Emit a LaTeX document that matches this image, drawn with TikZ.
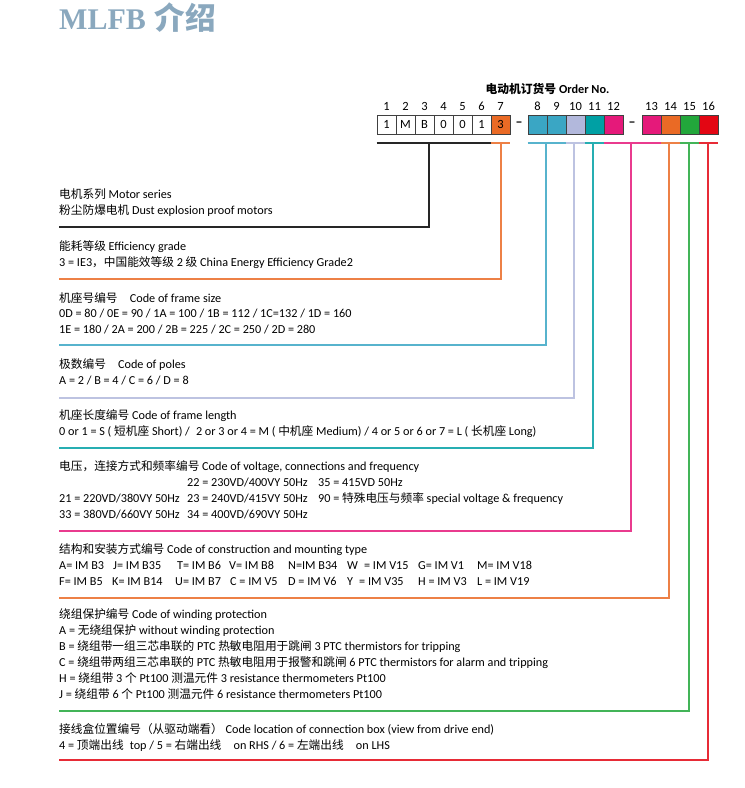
\documentclass[tikz,border=0pt]{standalone}
\usepackage{fontspec}
\setmainfont{Carlito}
\newfontfamily\cjk[Scale=0.958]{Noto Sans CJK SC}
\newfontfamily\ttlserif{Liberation Serif}
\definecolor{mlfbgrey}{RGB}{138,168,190}
\definecolor{ordblue}{RGB}{58,166,196}
\definecolor{ordlav}{RGB}{178,184,220}
\definecolor{ordteal}{RGB}{0,160,164}
\definecolor{ordpink}{RGB}{229,25,122}
\definecolor{ordorange}{RGB}{234,106,37}
\definecolor{ordgreen}{RGB}{34,167,59}
\definecolor{ordred}{RGB}{227,6,19}
\usepackage{tikz}
\usetikzlibrary{positioning}

\tikzset{
  digit/.style={draw=black!75, line width=0.8pt, minimum width=19pt, minimum height=19pt, inner sep=0pt, font=\fontsize{12.5}{13}\selectfont},
  posnum/.style={anchor=base, inner sep=0pt, font=\fontsize{12.5}{13}\selectfont},
  txt/.style={anchor=base west, inner sep=0pt, font=\fontsize{12.2}{16}\selectfont},
  lead/.style={line width=2pt, #1!85!white},
}

\begin{document}
\begin{tikzpicture}[x=1pt, y=-1pt]
  \useasboundingbox (0,0) rectangle (745,788);

  % title
  \node[anchor=base west, inner sep=0pt, text=mlfbgrey] (title) at (59,29.5)
    {{\ttlserif\bfseries\fontsize{30}{32}\selectfont MLFB}\hspace{9pt}{\cjk\bfseries\fontsize{32}{34}\selectfont 介绍}};

  % order number boxes
  \node[anchor=base, inner sep=0pt, font=\bfseries\fontsize{12.3}{13}\selectfont] (ordno) at (547.5,93) {{\cjk 电动机订货号} Order No.};
  \foreach \c [count=\i] in {1,M,B,0,0,1,3}{
    \node[digit] (d\i) at ({386.5+19*(\i-1)},124.5) {\c};
    \node[posnum] (n\i) at ({386.5+19*(\i-1)},110) {\i};
  }
  \node[digit, fill=ordorange] at (d7) {3};
  \foreach \i/\col in {8/ordblue, 9/ordblue, 10/ordlav, 11/ordteal, 12/ordpink}{
    \node[digit, fill=\col] (d\i) at ({537.5+19*(\i-8)},124.5) {};
    \node[posnum] (n\i) at ({537.5+19*(\i-8)},110) {\i};
  }
  \foreach \i/\col in {13/ordpink, 14/ordorange, 15/ordgreen, 16/ordred}{
    \node[digit, fill=\col] (d\i) at ({651.5+19*(\i-13)},124.5) {};
    \node[posnum] (n\i) at ({651.5+19*(\i-13)},110) {\i};
  }
  \node[inner sep=0pt, font=\bfseries\fontsize{14}{14}\selectfont] (dash1) at (519,124.5) {--};
  \node[inner sep=0pt, font=\bfseries\fontsize{14}{14}\selectfont] (dash2) at (632,124.5) {--};

  % leads from the positions to the code blocks
  \foreach \a/\b/\kx/\ey/\col in {1/6/429/227/black, 7/7/501/279/ordorange, 8/9/546/345/ordblue,
      10/10/574/398/ordlav, 11/11/593/448/ordteal, 12/13/631/531/ordpink,
      14/14/669/598/ordorange, 15/15/689/711/ordgreen, 16/16/708/760/ordred}{
    \coordinate (k\a) at (\kx,143);
    \coordinate (e\a) at (59,\ey);
    \draw[lead=\col] ([yshift=-9pt]d\a.south west) -- ([yshift=-9pt]d\b.south east);
    \draw[lead=\col] (k\a) |- (e\a);
  }

  % code blocks
  \foreach \t [count=\i] in {{\cjk 电机系列} Motor series, {\cjk 粉尘防爆电机} Dust explosion proof motors}
    \node[txt] (series\i) at (59,{198+16*(\i-1)}) {\t};
  \foreach \t [count=\i] in {{\cjk 能耗等级} Efficiency grade, 3 = IE3{\cjk ，中国能效等级} 2 {\cjk 级} China Energy Efficiency Grade2}
    \node[txt] (grade\i) at (59,{250+16*(\i-1)}) {\t};
  \foreach \t [count=\i] in {{\cjk 机座号编号}\quad Code of frame size,
      0D = 80 / 0E = 90 / 1A = 100 / 1B = 112 / 1C=132 / 1D = 160,
      1E = 180 / 2A = 200 / 2B = 225 / 2C = 250 / 2D = 280}
    \node[txt] (frame\i) at (59,{302+15.5*(\i-1)}) {\t};
  \foreach \t [count=\i] in {{\cjk 极数编号}\quad Code of poles, A = 2 / B = 4 / C = 6 / D = 8}
    \node[txt] (poles\i) at (59,{368+16*(\i-1)}) {\t};
  \foreach \t [count=\i] in {{\cjk 机座长度编号} Code of frame length,
      0 or 1 = S ( {\cjk 短机座} Short) /\enspace 2 or 3 or 4 = M ( {\cjk 中机座} Medium) / 4 or 5 or 6 or 7 = L ( {\cjk 长机座} Long)}
    \node[txt] (length\i) at (59,{419+16*(\i-1)}) {\t};

  \node[txt] (volt0) at (59,470) {{\cjk 电压，连接方式和频率编号} Code of voltage, connections and frequency};
  \foreach \x/\y/\t [count=\i] in {187/486/{22 = 230VD/400VY 50Hz}, 318/486/{35 = 415VD 50Hz},
      59/502/{21 = 220VD/380VY 50Hz}, 187/502/{23 = 240VD/415VY 50Hz},
      318/502/{90 = {\cjk 特殊电压与频率} special voltage \& frequency},
      59/518/{33 = 380VD/660VY 50Hz}, 187/518/{34 = 400VD/690VY 50Hz}}
    \node[txt] (volt\i) at (\x,\y) {\t};

  \node[txt] (mount0) at (59,553) {{\cjk 结构和安装方式编号} Code of construction and mounting type};
  \foreach \x/\t [count=\i] in {59/A= IM B3, 113/J= IM B35, 177/T= IM B6, 229/V= IM B8,
      288/N=IM B34, 347/W\enspace = IM V15, 418/G= IM V1, 477/M= IM V18}
    \node[txt] (mountA\i) at (\x,569) {\t};
  \foreach \x/\t [count=\i] in {59/F= IM B5, 112/K= IM B14, 175/U= IM B7, 230/C = IM V5,
      288/D = IM V6, 347/Y\enspace = IM V35, 418/H = IM V3, 477/L = IM V19}
    \node[txt] (mountB\i) at (\x,585) {\t};

  \foreach \t [count=\i] in {{\cjk 绕组保护编号} Code of winding protection,
      A = {\cjk 无绕组保护} without winding protection,
      B = {\cjk 绕组带一组三芯串联的} PTC {\cjk 热敏电阻用于跳闸} 3 PTC thermistors for tripping,
      C = {\cjk 绕组带两组三芯串联的} PTC {\cjk 热敏电阻用于报警和跳闸} 6 PTC thermistors for alarm and tripping,
      H = {\cjk 绕组带} 3 {\cjk 个} Pt100 {\cjk 测温元件} 3 resistance thermometers Pt100,
      J = {\cjk 绕组带} 6 {\cjk 个} Pt100 {\cjk 测温元件} 6 resistance thermometers Pt100}
    \node[txt] (wind\i) at (59,{618+16*(\i-1)}) {\t};
  \foreach \t [count=\i] in {{\cjk 接线盒位置编号（从驱动端看）} Code location of connection box (view from drive end),
      4 = {\cjk 顶端出线}\enspace top / 5 = {\cjk 右端出线}\quad on RHS / 6 = {\cjk 左端出线}\quad on LHS}
    \node[txt] (box\i) at (59,{733+16*(\i-1)}) {\t};
\end{tikzpicture}
\end{document}
